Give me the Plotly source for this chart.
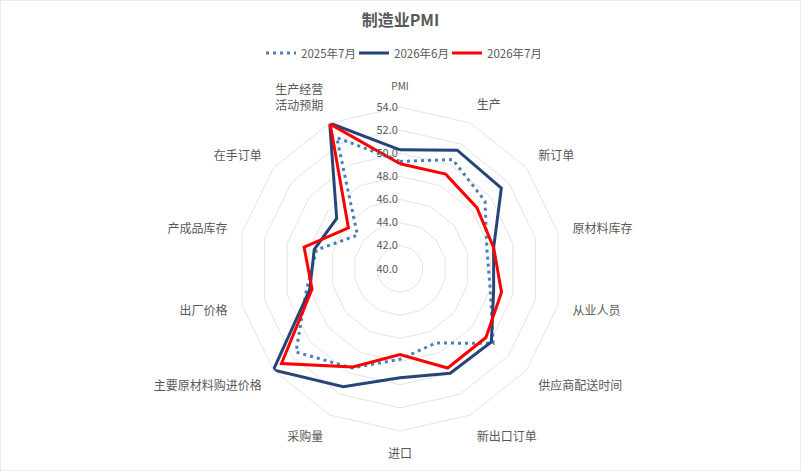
import plotly.graph_objects as go

categories = ['PMI', '生产', '新订单', '原材料库存', '从业人员', '供应商配送时间', '新出口订单',
              '进口', '采购量', '主要原材料购进价格', '出厂价格', '产成品库存', '在手订单', '生产经营活动预期']
category_labels = ["<span style='font-size:10px'>PMI</span>", '生产', '新订单', '原材料库存',
                   '从业人员', '供应商配送时间', '新出口订单', '进口', '采购量', '主要原材料购进价格',
                   '出厂价格', '产成品库存', '在手订单', '生产经营<br>活动预期']

series_names = ['2025年7月', '2026年6月', '2026年7月']
values_2025_07 = [49.3, 50.5, 49.4, 47.7, 48.0, 50.3, 47.1, 47.8, 49.5, 51.5, 48.3, 47.4, 44.7, 52.6]
values_2026_06 = [50.3, 51.4, 51.2, 48.3, 48.3, 50.1, 50.0, 49.4, 51.3, 54.0, 48.0, 47.6, 47.0, 54.0]
values_2026_07 = [49.1, 49.1, 48.5, 48.3, 49.0, 49.5, 49.5, 47.4, 49.4, 53.1, 47.8, 48.5, 45.7, 53.9]

radial_ticks = [40, 42, 44, 46, 48, 50, 52, 54]

text_color = '#595959'
font_family = "Noto Sans CJK SC, Noto Sans, sans-serif"

fig = go.Figure()

styles = [
    dict(color='#4a7ebb', width=3, dash='3px,4px'),
    dict(color='#264478', width=3, dash='solid'),
    dict(color='#ff0000', width=3, dash='solid'),
]
for name, vals, st in zip(series_names, [values_2025_07, values_2026_06, values_2026_07], styles):
    fig.add_trace(go.Scatterpolar(
        r=vals + vals[:1],
        theta=categories + categories[:1],
        mode='lines',
        name=name,
        line=dict(color=st['color'], width=st['width'], dash=st['dash']),
    ))

W, H = 801, 471
cx, cy, R = 400, 269, 162
fig.update_layout(
    width=W, height=H,
    margin=dict(l=0, r=0, t=0, b=0),
    paper_bgcolor='white',
    plot_bgcolor='white',
    font=dict(family=font_family, size=12, color=text_color),
    title=dict(text='<b>制造业PMI</b>', x=0.5, xanchor='center', y=1 - 20 / H, yanchor='middle',
               font=dict(size=16, color=text_color, family=font_family)),
    legend=dict(orientation='h', x=0.5, xanchor='center', y=1 - 53 / H, yanchor='middle',
                font=dict(size=11.5, color=text_color), itemwidth=30, entrywidth=48,
                traceorder='normal'),
    polar=dict(
        domain=dict(x=[(cx - R) / W, (cx + R) / W], y=[(H - cy - R) / H, (H - cy + R) / H]),
        gridshape='linear',
        bgcolor='white',
        radialaxis=dict(
            range=[40, 54], tickvals=radial_ticks, tickformat='.1f',
            angle=90, side='counterclockwise', tickangle=90,
            showline=False, ticks='', gridcolor='#e3e3e3', gridwidth=1,
            tickfont=dict(size=11, color=text_color),
        ),
        angularaxis=dict(
            direction='clockwise', rotation=90,
            tickvals=categories, ticktext=category_labels,
            showgrid=False, showline=True, linecolor='#e3e3e3', linewidth=1,
            ticks='outside', ticklen=12, tickcolor='rgba(0,0,0,0)',
            tickfont=dict(size=12, color=text_color),
        ),
    ),
    shapes=[dict(type='rect', xref='paper', yref='paper', x0=0, y0=0, x1=1, y1=1,
                 line=dict(color='#d9d9d9', width=1))],
)

fig.write_html('out.html', config={'displayModeBar': False},
               post_script="document.body.style.margin='0';")
